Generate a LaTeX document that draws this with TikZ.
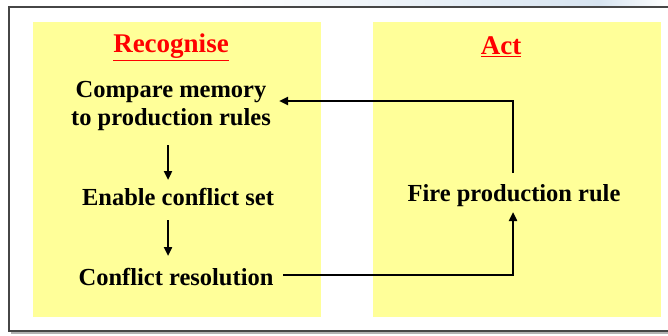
\documentclass[tikz,border=0pt]{standalone}
\usepackage{fontspec}
\setmainfont{Liberation Serif}
\usetikzlibrary{arrows.meta}
\definecolor{pad}{RGB}{255,255,153}
\definecolor{hred}{RGB}{255,0,0}
\definecolor{frame}{RGB}{70,70,70}
\definecolor{sky}{RGB}{215,228,240}
\begin{document}
\begin{tikzpicture}[x=1pt,y=-1pt,
  lbl/.style={font=\fontsize{24.5}{28}\selectfont\bfseries, align=center, inner sep=0pt},
  head/.style={font=\fontsize{27}{30}\selectfont\bfseries, text=hred, inner sep=0pt},
  conn/.style={line width=2.6pt, -{Triangle[length=9pt,width=8pt]}},
  panel/.style={fill=pad, draw=none}]
\useasboundingbox (0,0) rectangle (668,335);
\shade[left color=white, right color=sky] (220,0) rectangle (600,7);
\shade[left color=sky, right color=white] (600,0) rectangle (668,7);
% frame with shadow
\fill[gray!60] (11,331) rectangle (668,334);
\draw[frame, line width=2pt] (668,7) -- (9,7) -- (9,331) -- (668,331);
% panels
\fill[panel] (33,22) rectangle (321,317);
\fill[panel] (373,22) rectangle (661,317);
% headings
\node[head] (rec) at (171,47) {\underline{Recognise}};
\node[head] (act) at (501,47) {\underline{Act}};
% nodes
\node[lbl] (cmp) at (171,106) {Compare memory\\to production rules};
\node[lbl] (ecs) at (178,197) {Enable conflict set};
\node[lbl] (cr) at (176,277) {Conflict resolution};
\node[lbl] (fire) at (514,196) {Fire production rule};
\coordinate (a1s) at (168,145);
\coordinate (a1e) at (168,180);
\coordinate (a2s) at (168,220);
\coordinate (a2e) at (168,256);
\coordinate (crx) at (283,275);
\coordinate (cmpx) at (279,101);
\coordinate (br) at (513,275);
\coordinate (tr) at (513,101);
\coordinate (fb) at (513,212);
\coordinate (ft) at (513,173);
\draw[conn] (a1s) -- (a1e);
\draw[conn] (a2s) -- (a2e);
\draw[conn] (crx) -- (br) -- (fb);
\draw[conn] (ft) -- (tr) -- (cmpx);
\end{tikzpicture}
\end{document}
